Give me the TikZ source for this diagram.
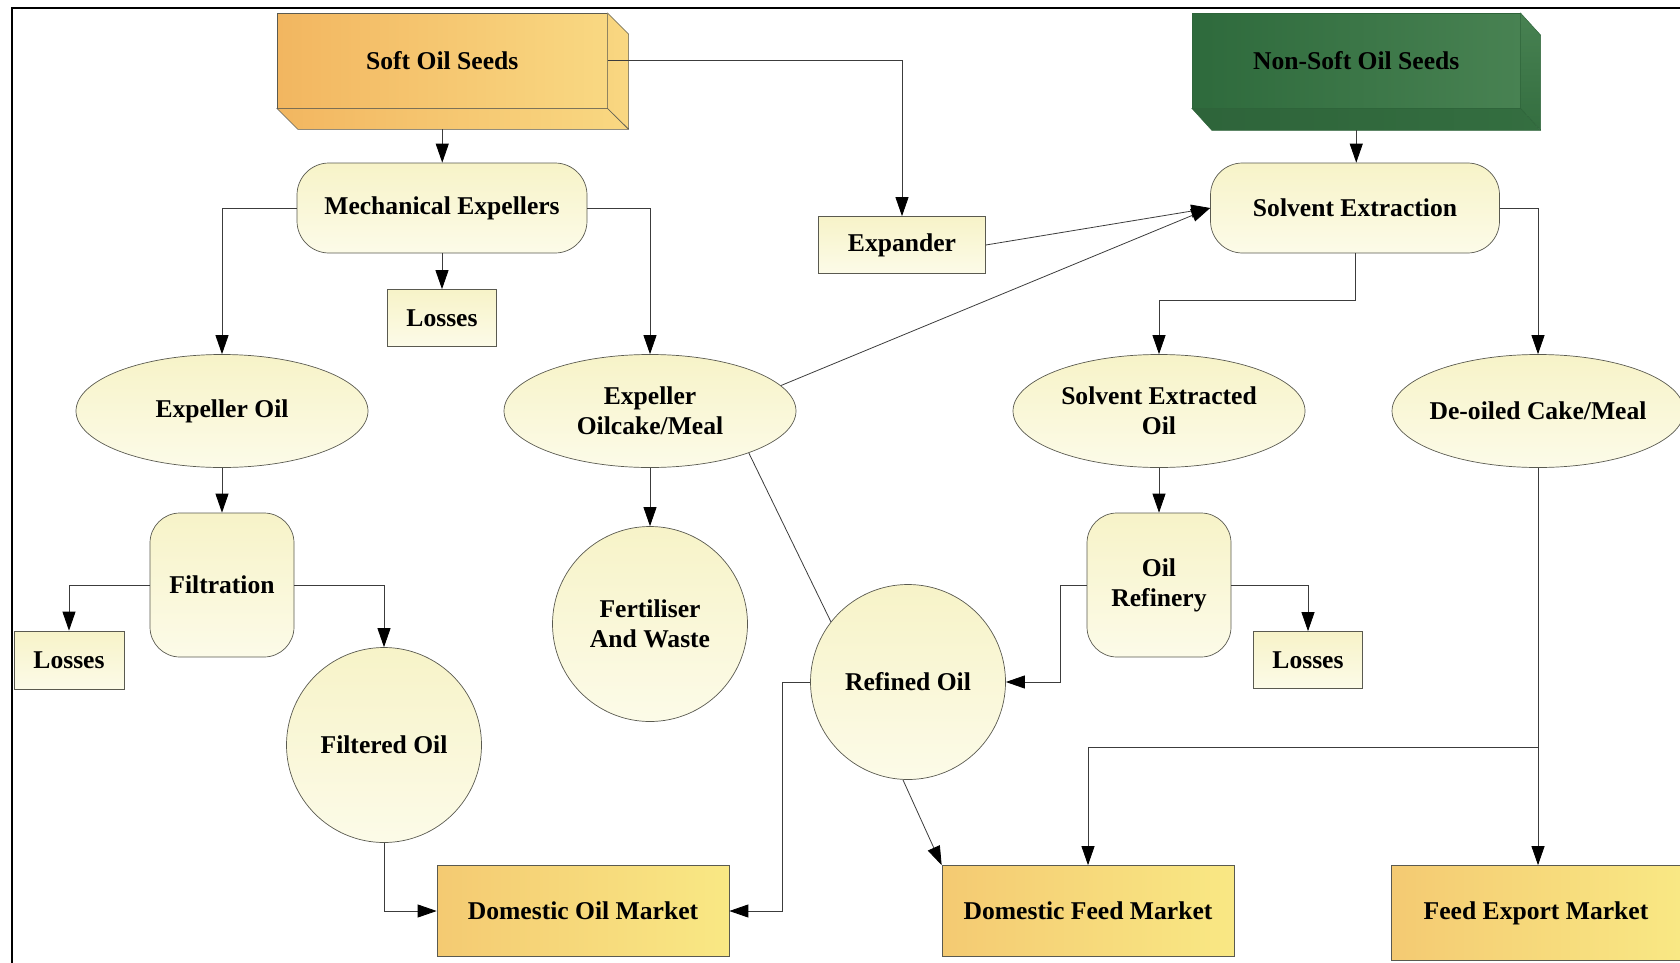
\documentclass[tikz,border=0pt]{standalone}
\usepackage{fontspec}
\setmainfont{Liberation Serif}
\usetikzlibrary{shapes.geometric,arrows.meta,calc}
\definecolor{edge}{RGB}{90,90,80}
\definecolor{palet}{RGB}{247,243,200}
\definecolor{paleb}{RGB}{252,251,232}
\definecolor{mkor}{RGB}{244,202,114}
\definecolor{mkmid}{RGB}{247,222,124}
\definecolor{mkye}{RGB}{249,232,132}
\definecolor{orfl}{RGB}{242,182,96}
\definecolor{orfr}{RGB}{249,216,130}
\definecolor{grfl}{RGB}{46,106,60}
\definecolor{grfr}{RGB}{72,130,82}
\definecolor{grsd}{RGB}{52,110,64}
\definecolor{grbt}{RGB}{46,100,58}
\definecolor{lnc}{RGB}{60,60,60}
\begin{document}
\begin{tikzpicture}[x=1pt,y=-1pt,
  lbl/.style={font=\fontsize{25.6}{30}\selectfont\bfseries, align=center, text=black, inner sep=0pt},
  pale/.style={lbl, draw=edge, line width=0.7pt, top color=palet, bottom color=paleb},
  mkt/.style={lbl, draw=edge, line width=0.7pt, left color=mkor, middle color=mkmid, right color=mkye},
  ell/.style={pale, ellipse, minimum width=292pt, minimum height=113pt},
  circ/.style={pale, circle, minimum size=195pt},
  rbox/.style={pale, rounded corners=32pt, minimum width=290pt, minimum height=90pt},
  sqbox/.style={pale, rounded corners=30pt, minimum width=144pt, minimum height=144pt},
  lossbox/.style={pale, minimum width=109pt, minimum height=57pt},
  arr/.style={draw=lnc, line width=0.8pt, line join=miter, -{Triangle[length=19pt,width=13pt,color=black]}},
  plain/.style={draw=lnc, line width=0.8pt}
]
\useasboundingbox (0,0) rectangle (1680,963);
% frame
\draw[line width=2pt] (1680,8) -- (12,8) -- (12,963);

% 3D boxes
\node[lbl, left color=orfl, right color=orfr, draw=edge, line width=0.5pt,
      minimum width=330pt, minimum height=95pt, anchor=north west] (sos) at (277,13) {Soft Oil Seeds};
\shade[left color=orfr!90!orfl, right color=orfr, draw=edge, line width=0.5pt]
  (sos.north east) -- ++(21,21) -- ++(0,95) -- (sos.south east) -- cycle;
\shade[left color=orfl, right color=orfr, draw=edge, line width=0.5pt]
  (sos.south west) -- (sos.south east) -- ++(21,21) -- ($(sos.south west)+(21,21)$) -- cycle;
\coordinate (sosb) at ($(sos.south)+(0,21)$);

\node[lbl, left color=grfl, right color=grfr, draw=grbt, line width=0.5pt,
      minimum width=328pt, minimum height=95pt, anchor=north west] (nss) at (1192,13) {Non-Soft Oil Seeds};
\shade[top color=grfr, bottom color=grsd, draw=grbt, line width=0.5pt]
  (nss.north east) -- ++(20,22) -- ++(0,95) -- (nss.south east) -- cycle;
\shade[left color=grbt, right color=grsd, draw=grbt, line width=0.5pt]
  (nss.south west) -- (nss.south east) -- ++(20,22) -- ($(nss.south west)+(20,22)$) -- cycle;
\coordinate (nssb) at ($(nss.south)+(0,22)$);

% process nodes
\node[rbox] (me) at (442,208) {Mechanical Expellers};
\node[rbox, minimum width=289pt] (se) at (1355,208) {Solvent Extraction};
\node[lossbox] (l1) at (442,318) {Losses};
\node[pale, minimum width=167pt, minimum height=57pt] (exp) at (902,245) {Expander};
\node[ell] (eo) at (222,411) {Expeller Oil};
\node[ell] (eom) at (650,411) {Expeller\\Oilcake/Meal};
\node[ell] (seo) at (1159,411) {Solvent Extracted\\Oil};
\node[ell, inner sep=-25pt] (doc) at (1538,411) {De-oiled Cake/Meal};
\node[sqbox] (filt) at (222,585) {Filtration};
\node[lossbox, minimum width=110pt, minimum height=58pt] (l2) at (69,660) {Losses};
\node[circ] (fo) at (384,745) {Filtered Oil};
\node[circ] (fw) at (650,624) {Fertiliser\\And Waste};
\node[sqbox] (orf) at (1159,585) {Oil\\Refinery};
\node[lossbox] (l3) at (1308,660) {Losses};
\node[circ] (ro) at (908,682) {Refined Oil};
\node[mkt, minimum width=292pt, minimum height=91pt] (dom) at (583,911) {Domestic Oil Market};
\node[mkt, minimum width=292pt, minimum height=91pt] (dfm) at (1088,911) {Domestic Feed Market};
\node[mkt, minimum width=289pt, minimum height=95pt] (fem) at (1536,913) {Feed Export Market};

% helper coordinates
\coordinate (seturn) at ($(se.south)+(0,47)$);
\coordinate (rojog) at (782,682);
\coordinate (orjog) at (1060,585);
\coordinate (br) at (1538,747);

% connectors
\draw[arr] (sosb) -- (sosb |- me.north);
\draw[arr] (sos.east) -| (exp.north);
\draw[arr] (nssb) -- (nssb |- se.north);
\draw[arr] (me.west) -| (eo.north);
\draw[arr] (me.south) -- (l1.north);
\draw[arr] (me.east) -| (eom.north);
\draw[arr] (exp.east) -- (se.west);
\draw[arr] (eom.11) -- (se.west);
\draw[plain] (eom.-23) -- (ro.142);
\draw[arr] (eom.south) -- (fw.north);
\draw[arr] (eo.south) -- (filt.north);
\draw[arr] (filt.west) -| (l2.north);
\draw[arr] (filt.east) -| (fo.north);
\draw[arr] (fo.south) |- (dom.west);
\draw[arr] (ro.west) -- (rojog) |- (dom.east);
\draw[arr] (ro.-93) -- (dfm.north west);
\draw[arr] (se.south) -- (seturn) -| (seo.north);
\draw[arr] (se.east) -| (doc.north);
\draw[arr] (seo.south) -- (orf.north);
\draw[arr] (orf.west) -- (orjog) |- (ro.east);
\draw[arr] (orf.east) -| (l3.north);
\draw[arr] (doc.south) -- (doc.south |- fem.north);
\draw[arr] (br) -| (dfm.north);
\end{tikzpicture}
\end{document}
